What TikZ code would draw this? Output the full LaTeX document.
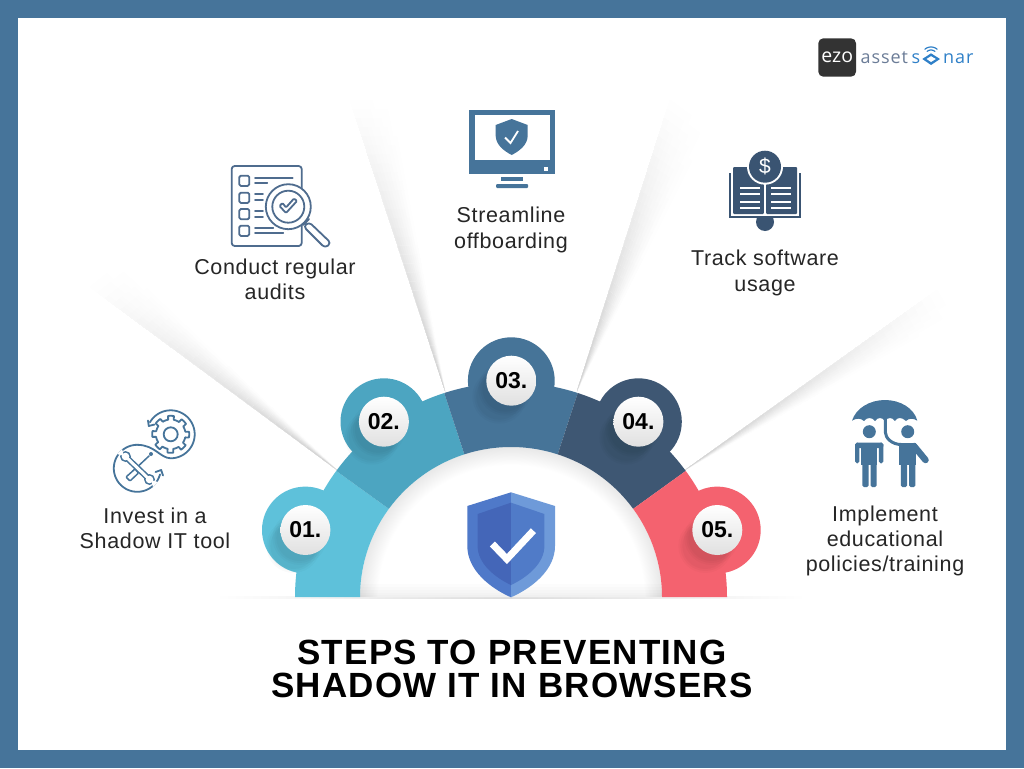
\documentclass[tikz,border=0pt]{standalone}
\usepackage{fontspec}
\setmainfont{Liberation Sans}
\newfontfamily\bodyf[LetterSpace=3]{Liberation Sans}
\newfontfamily\titlef[LetterSpace=3.5]{Liberation Sans}
\newfontfamily\numf{Liberation Sans}
\newfontfamily\logof[LetterSpace=5]{Open Sans}
\definecolor{frameC}{HTML}{46749A}
\definecolor{segA}{HTML}{5EC1DA}
\definecolor{segB}{HTML}{4CA5C1}
\definecolor{segC}{HTML}{467498}
\definecolor{segD}{HTML}{3E5773}
\definecolor{segE}{HTML}{F4626F}
\definecolor{iconA}{HTML}{46749A}
\definecolor{iconB}{HTML}{4F6C8E}
\definecolor{iconD}{HTML}{3A5472}
\definecolor{shOL}{HTML}{4F79C9}
\definecolor{shOR}{HTML}{6E9AD9}
\definecolor{shIL}{HTML}{4466B8}
\definecolor{shIR}{HTML}{507BC8}
\definecolor{logoG}{HTML}{6B7C97}
\definecolor{logoB}{HTML}{2F80C8}
\pgfdeclareradialshading{innerS}{\pgfpoint{0bp}{0bp}}{color(0bp)=(white);color(22bp)=(white);color(25bp)=(black!9);color(50bp)=(black!9)}
% ax ay  bx by  cx cy : apex, sharp end, soft end (pixels, y down)
% painted far to near and soft to sharp; each cell overlaps the ones painted after it
\newcommand\lightray[6]{%
  \foreach \ii in {32,31,...,1}{%
    \foreach \jj in {9,8,...,1}{%
      \pgfmathsetmacro\lb{\ii/32}%
      \pgfmathsetmacro\la{max(0,(\ii-1.6)/32)}%
      \pgfmathsetmacro\ss{\jj/9}%
      \pgfmathsetmacro\gg{1-0.2*(1-(\ii-.5)/32)*(1-(\jj-.5)/9)}%
      \definecolor{raycol}{gray}{\gg}%
      \fill[raycol] (#1+\la*#3-\la*#1,#2+\la*#4-\la*#2) -- (#1+\lb*#3-\lb*#1,#2+\lb*#4-\lb*#2)
        -- ({#1+\lb*((1-\ss)*(#3-#1)+\ss*(#5-#1))},{#2+\lb*((1-\ss)*(#4-#2)+\ss*(#6-#2))})
        -- ({#1+\la*((1-\ss)*(#3-#1)+\ss*(#5-#1))},{#2+\la*((1-\ss)*(#4-#2)+\ss*(#6-#2))}) -- cycle;
    }}}
\newcommand\bandseg[3]{%
  \fill[#1] plot[variable=\t,domain=#2:#3,samples=50] ({511+216*cos(\t)},{597-214.5*sin(\t)})
     -- plot[variable=\t,domain=#3:#2,samples=50] ({511+151*cos(\t)},{597-150*sin(\t)}) -- cycle;}
\newcommand\badge[5]{%
  \fill[#3] (#1,#2) circle[radius=43.4];
  \foreach \rr/\oo in {27/.02,25/.025,23/.025}{
    \fill[black,opacity=\oo] (#1-12,#2+16) circle[radius=\rr];
    \fill[black,opacity=\oo] (#1-6,#2+8) circle[radius=\rr];}
  \shade[top color=white,middle color=white,bottom color=black!12] (#1,#2) circle[radius=25];
  \node[labelnum] (#4) at (#1,#2) {#5};}
\tikzset{
  labelnum/.style={font=\numf\bfseries\fontsize{23}{23}\selectfont,text=black,inner sep=0},
  bodytext/.style={font=\bodyf\fontsize{21.5}{25.3}\selectfont,text=black!85,align=center,inner sep=0},
  titletext/.style={font=\titlef\bfseries\fontsize{35}{35}\selectfont,text=black,inner sep=0,anchor=base},
  iconline/.style={line width=1.8pt,line cap=round,line join=round},
}
\begin{document}
\begin{tikzpicture}[x=1pt,y=-1pt]
\useasboundingbox (0,0) rectangle (1024,768);
\fill[frameC] (0,0) rectangle (1024,768);
\fill[white] (18,18) rectangle (1006,750);
% rays
\lightray{337}{470}{90}{287}{120}{263}
\lightray{445}{391}{350}{100}{390}{100}
\lightray{577}{391}{670}{100}{708}{128}
\lightray{685}{470}{937}{290}{952}{317}
% ground line
\shade[left color=white,right color=white,middle color=black!14] (215,596) rectangle (806,598.5);
% inner shade
\begin{scope}
  \clip plot[variable=\t,domain=0:180,samples=70] ({511+151*cos(\t)},{597-150*sin(\t)}) -- cycle;
  \shade[shading=innerS] (360,447) rectangle (662,747);
  \foreach \yy in {584,587,590,593,595}
    \fill[black,opacity=.012] (340,\yy) rectangle (680,597);
\end{scope}
% band
\bandseg{segA}{180}{144}
\bandseg{segB}{144}{108}
\bandseg{segC}{108}{72}
\bandseg{segD}{72}{36}
\bandseg{segE}{36}{0}
\badge{305.4}{530}{segA}{n1}{01.}
\badge{383.9}{421.7}{segB}{n2}{02.}
\badge{511.3}{380.7}{segC}{n3}{03.}
\badge{638.4}{421.7}{segD}{n4}{04.}
\badge{717.3}{530}{segE}{n5}{05.}
% central shield
\fill[shOL] (511,492.3) -- (467.3,506) -- (467.3,546) .. controls (467.3,570) and (490,588) .. (511,597.3) -- cycle;
\fill[shOR] (511,492.3) -- (555,506) -- (555,546) .. controls (555,570) and (532,588) .. (511,597.3) -- cycle;
\fill[shIL] (511,502.7) -- (477.6,514) -- (477.6,546) .. controls (477.6,563) and (494,577) .. (511,585) -- cycle;
\fill[shIR] (511,502.7) -- (544.4,514) -- (544.4,546) .. controls (544.4,563) and (528,577) .. (511,585) -- cycle;
\draw[white,line width=7pt,line join=miter] (492.4,544) -- (506.9,559) -- (533.4,530.7);
% logo
\fill[black!80,rounded corners=5pt] (818.3,38.3) rectangle (856,76.7);
\node[font=\fontspec{Open Sans}\fontsize{19.5}{19.5}\selectfont,text=white,inner sep=0] (ezo) at (837.2,56.8) {ezo};
\node[font=\logof\fontsize{18}{18}\selectfont,text=logoG,inner sep=0,anchor=base west] (ast) at (860.5,63.5) {asset};
\node[font=\logof\fontsize{18}{18}\selectfont,text=logoB,inner sep=0,anchor=base west] (ss) at (911.5,63.5) {s};
\node[font=\logof\fontsize{18}{18}\selectfont,text=logoB,inner sep=0,anchor=base west] (nr) at (943,63.5) {nar};
\fill[logoB] (922.3,59) -- (931,53.3) -- (940,59) -- (931,65) -- cycle;
\fill[white] (926.5,59) -- (931,56.2) -- (935.8,59) -- (931,62) -- cycle;
\draw[logoB,line width=1.2pt,line cap=round] plot[variable=\t,domain=50:130,samples=14] ({931+6*cos(\t)},{56-6*sin(\t)});
\draw[logoB,line width=1.2pt,line cap=round] plot[variable=\t,domain=50:130,samples=14] ({931+9.5*cos(\t)},{56.5-9.5*sin(\t)});
% monitor
\fill[iconA] (469,110) rectangle (555,174);
\fill[white] (474.5,115) rectangle (549.5,160);
\fill[white] (544,167) rectangle (548,171);
\fill[iconA] (500.5,177) rectangle (523,181);
\fill[iconA,rounded corners=1pt] (496,184) rectangle (528,188);
\fill[iconA] (511.7,119) -- (495.7,125) -- (495.7,136) .. controls (496,145) and (504,151) .. (511.7,155) .. controls (519.4,151) and (527.4,145) .. (527.7,136) -- (527.7,125) -- cycle;
\draw[white,line width=1.8pt] (505,137.5) -- (510.5,143) -- (518,131);
% gears and tools
\begin{scope}[iconA,iconline]
  \draw plot[variable=\t,domain=0:360,samples=181] ({170.7+(mod(\t+11,45)<21?18.5:14.8)*cos(\t)},{434.3-(mod(\t+11,45)<21?18.5:14.8)*sin(\t)}) -- cycle;
  \draw (170.7,434.3) circle[radius=7];
  \draw plot[variable=\t,domain=150:-90,samples=50] ({170.7+24*cos(\t)},{434.3-24*sin(\t)})
     .. controls (160,458) and (155,445) .. (137.3,444.8);
  \draw plot[variable=\t,domain=90:345,samples=50] ({137.3+23.5*cos(\t)},{468.3-23.5*sin(\t)});
  \draw (148,420.5) -- (148.8,426) -- (154.5,424.5);
  \draw (155.5,472) -- (161.2,470) -- (163,475.5);
  % screwdriver
  \draw[line width=1.5pt] (149,456) -- (133,471);
  \fill (151,454) circle[radius=2];
  \draw[line width=1.5pt,fill=white,rounded corners=1pt] (135,469) -- (138.5,473) -- (130,481) -- (126,477) -- cycle;
  % wrench
  \draw[line width=6pt] (127,458) -- (148,478);
  \fill (125.5,456.5) circle[radius=5.5];
  \fill (149.5,479.5) circle[radius=5.5];
  \fill[white] (125.5,456.5) circle[radius=3.8];
  \fill[white] (149.5,479.5) circle[radius=3.8];
  \draw[white,line width=3pt,line cap=butt] (127.5,458.4) -- (147.5,477.6);
  \fill[white] (124,456) -- (122,449) -- (117,454) -- cycle;
  \fill[white] (151,480) -- (153,487) -- (158,482) -- cycle;
\end{scope}
% audit list
\begin{scope}[iconB,iconline]
  \draw[rounded corners=3pt] (231.7,166) rectangle (301.7,246);
  \foreach \yy in {175.7,192.7,209,225.7}
    \draw[rounded corners=1.5pt] (239.3,\yy) rectangle ++(10,10.2);
  \draw (255,178.3) -- (292.7,178.3);
  \draw (255,183.3) -- (267.3,183.3);
  \draw (255,194.3) -- (263,194.3);
  \draw (255,200) -- (263,200);
  \draw (255,211) -- (263,211);
  \draw (255,216.7) -- (263,216.7);
  \draw (255,228.3) -- (273.3,228.3);
  \draw (255,233.3) -- (283.3,233.3);
  \fill[white] (288.3,206.7) circle[radius=23];
  \draw (288.3,206.7) circle[radius=22.5];
  \draw (288.3,206.7) circle[radius=16];
  \draw (305,223) -- (309,219);
  \draw (306,222) -- (303,225);
  \draw[fill=white,rounded corners=3.5pt] (309,222) -- (331,243) -- (325,248) -- (303.5,226.5) -- cycle;
  \draw[rounded corners=1pt] (279.5,206) -- (286,213) -- (297,201) -- (294,198.5) -- (286,207.5) -- (282.5,203) -- cycle;
\end{scope}
% book
\begin{scope}[iconD]
  \fill (765,222) circle[radius=9];
  \fill (729,173) rectangle (801,218);
  \fill[white] (730.6,168) rectangle (799.4,216);
  \fill[rounded corners=1pt] (733,167) rectangle (763.8,214);
  \fill[rounded corners=1pt] (766.2,167) rectangle (797,214);
  \foreach \yy in {187.7,194.3,201.7,208.3}{
    \fill[white] (740,\yy-1) rectangle (760,\yy+1);
    \fill[white] (770.7,\yy-1) rectangle (791,\yy+1);}
  \fill[white] (765,166.7) circle[radius=18];
  \fill (765,166.7) circle[radius=16];
  \node[font=\fontspec{Liberation Sans}\fontsize{21}{21}\selectfont,text=white,inner sep=0] (dollar) at (765,166.5) {\$};
\end{scope}
% umbrella figures
\begin{scope}[iconA]
  \fill (852,420.7) .. controls (856,408) and (870,400) .. (885,400) .. controls (900,400) and (914,408) .. (917.3,420.7)
     .. controls (913,418) and (909,418) .. (906,421) .. controls (902,417) and (897,417) .. (895,421)
     .. controls (892,417) and (888,417) .. (885,421) .. controls (882,417) and (878,417) .. (875,421)
     .. controls (872,417) and (867,417) .. (864,421) .. controls (861,418) and (856,418) .. (852,420.7) -- cycle;
  \draw[line width=3pt] (885.3,419) -- (885.3,432) .. controls (885.3,438) and (892,444.5) .. (901,444.5);
  \fill (869.3,431.7) circle[radius=6.5];
  \fill (907.7,431.7) circle[radius=6.5];
  % left figure
  \fill[rounded corners=1.8pt] (855,442.7) rectangle (883.3,448);
  \fill[rounded corners=1.8pt] (855,442.7) rectangle (859.4,463.3);
  \fill[rounded corners=1.8pt] (878.9,442.7) rectangle (883.3,463.3);
  \fill (860.7,442.7) rectangle (877.3,465);
  \fill[rounded corners=1.5pt] (862.3,460) rectangle (868.6,487);
  \fill[rounded corners=1.5pt] (870.5,460) rectangle (876.7,487);
  % right figure
  \fill (899.3,442.7) rectangle (916,465);
  \fill[rounded corners=1.5pt] (900.8,460) rectangle (907.2,487);
  \fill[rounded corners=1.5pt] (909,460) rectangle (915.4,487);
  \draw[line width=6.5pt,line cap=round] (914,446) -- (925.5,460);
\end{scope}
% labels
\node[bodytext] (t1) at (155,528.5) {Invest in a\\Shadow IT tool};
\node[bodytext] (t2) at (275,279.5) {Conduct regular\\audits};
\node[bodytext] (t3) at (511,230) {Streamline\\offboarding};
\node[bodytext] (t4) at (765,273) {Track software\\usage};
\node[bodytext] (t5) at (885,541) {Implement\\educational\\policies/training};
\node[titletext] (h1) at (512,664) {STEPS TO PREVENTING};
\node[titletext] (h2) at (512,697) {SHADOW IT IN BROWSERS};
\end{tikzpicture}
\end{document}
